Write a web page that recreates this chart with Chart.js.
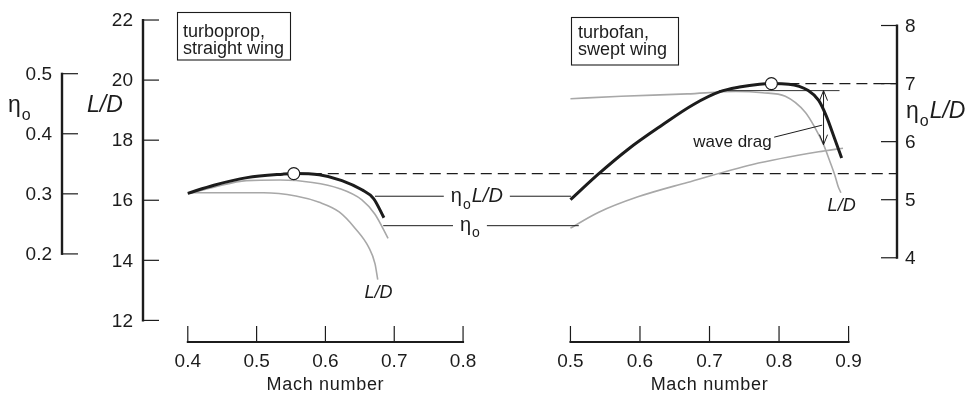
<!DOCTYPE html>
<html>
<head>
<meta charset="utf-8">
<script src="https://cdn.jsdelivr.net/npm/chart.js@4.4.1/dist/chart.umd.min.js"></script>
<style>
  html, body { margin: 0; background: #fff; }
  #wrap { width: 974px; height: 397px; }
</style>
</head>
<body>
<div id="wrap"><canvas id="machChart" width="974" height="397"></canvas></div>
<script>
// Turboprop, straight wing
const propEtaLdMach = [0.400, 0.438, 0.486, 0.538, 0.554, 0.591, 0.624, 0.653, 0.670, 0.685];
const propEtaLd     = [5.11, 5.25, 5.38, 5.44, 5.45, 5.43, 5.33, 5.17, 5.02, 4.69];
const propEtaMach   = [0.400, 0.438, 0.485, 0.534, 0.581, 0.620, 0.653, 0.672, 0.691];
const propEta       = [0.300, 0.311, 0.322, 0.323, 0.319, 0.309, 0.290, 0.266, 0.226];
const propLdMach    = [0.400, 0.438, 0.510, 0.557, 0.591, 0.620, 0.643, 0.663, 0.672, 0.676];
const propLd        = [16.25, 16.25, 16.25, 16.14, 15.93, 15.61, 15.07, 14.43, 13.89, 13.36];
const propPeak      = [0.554, 5.45];

// Turbofan, swept wing
const fanEtaLdMach = [0.500, 0.540, 0.583, 0.630, 0.677, 0.715, 0.743, 0.772, 0.789, 0.814, 0.842, 0.857, 0.868, 0.880, 0.890];
const fanEtaLd     = [5.00, 5.44, 5.87, 6.27, 6.64, 6.86, 6.94, 6.99, 7.00, 6.99, 6.88, 6.71, 6.44, 6.05, 5.72];
const fanLdMach    = [0.500, 0.573, 0.668, 0.738, 0.776, 0.809, 0.838, 0.852, 0.864, 0.873, 0.880, 0.885, 0.889];
const fanLd        = [19.38, 19.46, 19.54, 19.62, 19.58, 19.46, 18.92, 18.40, 17.85, 17.30, 16.85, 16.46, 16.25];
const fanEtaMach   = [0.500, 0.540, 0.597, 0.668, 0.762, 0.857, 0.892];
const fanEta       = [0.243, 0.269, 0.295, 0.319, 0.349, 0.370, 0.376];
const fanPeak      = [0.789, 7.00];

// L/D without wave drag, and the wave drag arrow
const noWaveLdMach = [0.714, 0.887];
const noWaveLd     = 19.65;
const waveDragMach = 0.864;

// Tick labels
const machTicksProp = [0.4, 0.5, 0.6, 0.7, 0.8];
const machTicksFan  = [0.5, 0.6, 0.7, 0.8, 0.9];
const ldTicks       = [12, 14, 16, 18, 20, 22];
const etaTicks      = [0.2, 0.3, 0.4, 0.5];
const etaLdTicks    = [4, 5, 6, 7, 8];

const FONT = '"Liberation Sans", Arial, Helvetica, sans-serif';
const INK = '#1c1c1c';
const GREY = '#a8a8a8';
const W = 974, H = 397;

// detached axes sit at fixed spots, the scales are stretched so values land on them
const frame = { etaAxisX: 62, ldAxisX: 143, rightAxisX: 897, machAxisY: 342, tick: 16 };

function fitX(v0, p0, v1, p1, size) {
    const k = (p1 - p0) / (v1 - v0);
    return { min: v0 - p0 / k, max: v0 + (size - p0) / k };
}
function fitY(v0, p0, v1, p1, size) {
    const k = (p0 - p1) / (v1 - v0);
    return { min: v0 - (size - p0) / k, max: v0 + p0 / k };
}

const pts = (xs, ys) => xs.map((x, i) => ({ x, y: Array.isArray(ys) ? ys[i] : ys }));

function curve(label, xs, ys, xAxisID, yAxisID, color, width, order) {
    return {
        label, data: pts(xs, ys), xAxisID, yAxisID,
        borderColor: color, borderWidth: width, pointRadius: 0,
        cubicInterpolationMode: 'monotone', fill: false, order
    };
}

function marker(label, p, xAxisID) {
    return {
        label, data: [{ x: p[0], y: p[1] }], xAxisID, yAxisID: 'yEtaLd',
        showLine: false, pointRadius: 6, pointBackgroundColor: '#fff',
        pointBorderColor: INK, pointBorderWidth: 1.2, order: 0
    };
}

function seg(ctx, x1, y1, x2, y2) {
    ctx.beginPath();
    ctx.moveTo(x1, y1);
    ctx.lineTo(x2, y2);
    ctx.stroke();
}

// η with subscript o, optionally followed by italic text; returns width
function etaText(ctx, x, y, size, suffix, draw = true) {
    let cx = x;
    ctx.textAlign = 'left';
    ctx.textBaseline = 'alphabetic';
    ctx.font = `${size}px ${FONT}`;
    if (draw) ctx.fillText('η', cx, y);
    cx += ctx.measureText('η').width + 1;
    ctx.font = `${Math.round(size * 0.68)}px ${FONT}`;
    if (draw) ctx.fillText('o', cx, y + size * 0.34);
    cx += ctx.measureText('o').width;
    if (suffix) {
        ctx.font = `italic ${size}px ${FONT}`;
        if (draw) ctx.fillText(suffix, cx + 1, y);
        cx += ctx.measureText(suffix).width + 1;
    }
    return cx - x;
}

function yAxis(ctx, scale, ticks, axisX, side, fmt) {
    const top = scale.getPixelForValue(ticks[ticks.length - 1]);
    const bottom = scale.getPixelForValue(ticks[0]);
    ctx.lineWidth = 2.4;
    seg(ctx, axisX, top - 1, axisX, bottom + 1);
    ctx.lineWidth = 1.2;
    ctx.font = `19px ${FONT}`;
    ctx.textBaseline = 'middle';
    ctx.textAlign = side === 'right' ? 'right' : 'left';
    ticks.forEach(t => {
        const y = scale.getPixelForValue(t);
        if (side === 'right') {
            seg(ctx, axisX, y, axisX + frame.tick, y);
            ctx.fillText(fmt(t), axisX - 10, y + 1);
        } else {
            seg(ctx, axisX - frame.tick, y, axisX, y);
            ctx.fillText(fmt(t), axisX + 8, y + 1);
        }
    });
}

function xAxis(ctx, scale, ticks) {
    const y = frame.machAxisY;
    const x0 = scale.getPixelForValue(ticks[0]);
    const x1 = scale.getPixelForValue(ticks[ticks.length - 1]);
    ctx.lineWidth = 2.2;
    seg(ctx, x0 - 1, y, x1 + 1, y);
    ctx.lineWidth = 1.2;
    ctx.font = `19px ${FONT}`;
    ctx.textAlign = 'center';
    ctx.textBaseline = 'alphabetic';
    ticks.forEach(t => {
        const x = scale.getPixelForValue(t);
        seg(ctx, x, y, x, y - frame.tick);
        ctx.fillText(t.toFixed(1), x, y + 25);
    });
    ctx.font = `18px ${FONT}`;
    ctx.letterSpacing = '0.7px';
    ctx.fillText('Mach number', scale.getPixelForValue((ticks[0] + ticks[ticks.length - 1]) / 2), y + 48);
    ctx.letterSpacing = '0px';
}

function box(ctx, x, y, w, h, lines, tx, baselines) {
    ctx.lineWidth = 1.1;
    ctx.fillStyle = '#fff';
    ctx.fillRect(x, y, w, h);
    ctx.strokeRect(x, y, w, h);
    ctx.fillStyle = INK;
    ctx.font = `18px ${FONT}`;
    ctx.textAlign = 'left';
    ctx.textBaseline = 'alphabetic';
    lines.forEach((s, i) => ctx.fillText(s, tx, baselines[i]));
}

// a horizontal leader with a label sitting in a gap of the line
function leader(ctx, xa, xb, y, cx, suffix, dy) {
    const w = etaText(ctx, 0, 0, 20, suffix, false);
    const left = cx - w / 2;
    ctx.lineWidth = 1;
    seg(ctx, xa, y, left - 7, y);
    seg(ctx, left + w + 7, y, xb, y);
    etaText(ctx, left, y + dy, 20, suffix);
}

function arrowHead(ctx, x, y, dir) {
    ctx.beginPath();
    ctx.moveTo(x - 4, y - dir * 10);
    ctx.lineTo(x, y);
    ctx.lineTo(x + 4, y - dir * 10);
    ctx.stroke();
}

const figureFrame = {
    id: 'figureFrame',
    beforeDatasetsDraw(chart) {
        // dashed lines from each peak over to the η_o L/D axis
        const { ctx } = chart;
        ctx.save();
        ctx.strokeStyle = INK;
        ctx.lineWidth = 1.2;
        ctx.setLineDash([11, 6]);
        [0, 1].forEach(i => {
            const p = chart.getDatasetMeta(i).data[0];
            seg(ctx, p.x, p.y, frame.rightAxisX, p.y);
        });
        ctx.restore();
    },
    afterDatasetsDraw(chart) {
        const { ctx, scales } = chart;
        const { xProp, xFan, yLd, yEta, yEtaLd } = scales;
        ctx.save();
        ctx.strokeStyle = INK;
        ctx.fillStyle = INK;

        yAxis(ctx, yEta, etaTicks, frame.etaAxisX, 'right', t => t.toFixed(1));
        yAxis(ctx, yLd, ldTicks, frame.ldAxisX, 'right', t => String(t));
        yAxis(ctx, yEtaLd, etaLdTicks, frame.rightAxisX, 'left', t => String(t));
        xAxis(ctx, xProp, machTicksProp);
        xAxis(ctx, xFan, machTicksFan);

        // axis titles
        etaText(ctx, 8, 112, 23, '');
        ctx.font = `italic 23px ${FONT}`;
        ctx.fillText('L/D', 87, 112);
        etaText(ctx, 906, 118, 23, 'L/D');

        box(ctx, 177.5, 12.5, 113, 47.5, ['turboprop,', 'straight wing'], 183, [36.5, 53.5]);
        box(ctx, 571.5, 17.5, 107, 47.5, ['turbofan,', 'swept wing'], 578, [37.5, 54.5]);

        // curve labels joined across both panels
        const yA = yEtaLd.getPixelForValue(5.06);
        leader(ctx, xProp.getPixelForValue(0.672), xFan.getPixelForValue(0.501), yA,
            xProp.getPixelForValue(0.82), 'L/D', 6);
        const yB = yEta.getPixelForValue(0.247);
        leader(ctx, xProp.getPixelForValue(0.684), xFan.getPixelForValue(0.512), yB,
            xProp.getPixelForValue(0.81), '', 5);

        ctx.font = `italic 18px ${FONT}`;
        ctx.textAlign = 'center';
        ctx.textBaseline = 'middle';
        ctx.fillText('L/D', xProp.getPixelForValue(0.677), yLd.getPixelForValue(12.91));
        ctx.fillText('L/D', xFan.getPixelForValue(0.890), yLd.getPixelForValue(15.80));

        // wave drag
        const ax = xFan.getPixelForValue(waveDragMach);
        const ay1 = yLd.getPixelForValue(noWaveLd);
        const ay2 = yLd.getPixelForValue(17.85);
        ctx.lineWidth = 1;
        seg(ctx, ax, ay1, ax, ay2);
        arrowHead(ctx, ax, ay1, -1);
        arrowHead(ctx, ax, ay2, 1);
        seg(ctx, xFan.getPixelForValue(0.793), yLd.getPixelForValue(18.10),
            xFan.getPixelForValue(0.862), yLd.getPixelForValue(18.50));
        ctx.font = `17px ${FONT}`;
        ctx.fillText('wave drag', xFan.getPixelForValue(0.733), yLd.getPixelForValue(17.94));

        ctx.restore();
    }
};

new Chart(document.getElementById('machChart'), {
    type: 'line',
    data: {
        datasets: [
            marker('prop peak', propPeak, 'xProp'),
            marker('fan peak', fanPeak, 'xFan'),
            curve('prop ηo L/D', propEtaLdMach, propEtaLd, 'xProp', 'yEtaLd', INK, 3, 1),
            curve('fan ηo L/D', fanEtaLdMach, fanEtaLd, 'xFan', 'yEtaLd', INK, 3, 1),
            curve('no wave drag', noWaveLdMach, noWaveLd, 'xFan', 'yLd', '#333', 1, 2),
            curve('prop ηo', propEtaMach, propEta, 'xProp', 'yEta', GREY, 1.6, 3),
            curve('prop L/D', propLdMach, propLd, 'xProp', 'yLd', GREY, 1.6, 3),
            curve('fan ηo', fanEtaMach, fanEta, 'xFan', 'yEta', GREY, 1.6, 3),
            curve('fan L/D', fanLdMach, fanLd, 'xFan', 'yLd', GREY, 1.6, 3)
        ]
    },
    options: {
        responsive: false,
        animation: false,
        events: [],
        layout: { padding: 0 },
        plugins: { legend: { display: false }, tooltip: { enabled: false } },
        scales: {
            xProp: { type: 'linear', display: false, ...fitX(0.4, 183.3, 0.8, 462.7, W) },
            xFan: { type: 'linear', display: false, ...fitX(0.5, 571.7, 0.9, 854, W) },
            yLd: { type: 'linear', display: false, ...fitY(12, 325, 22, 13.3, H) },
            yEta: { type: 'linear', display: false, ...fitY(0.2, 256, 0.5, 69, H) },
            yEtaLd: { type: 'linear', display: false, ...fitY(4, 260, 8, 19, H) }
        }
    },
    plugins: [figureFrame]
});
</script>
</body>
</html>
